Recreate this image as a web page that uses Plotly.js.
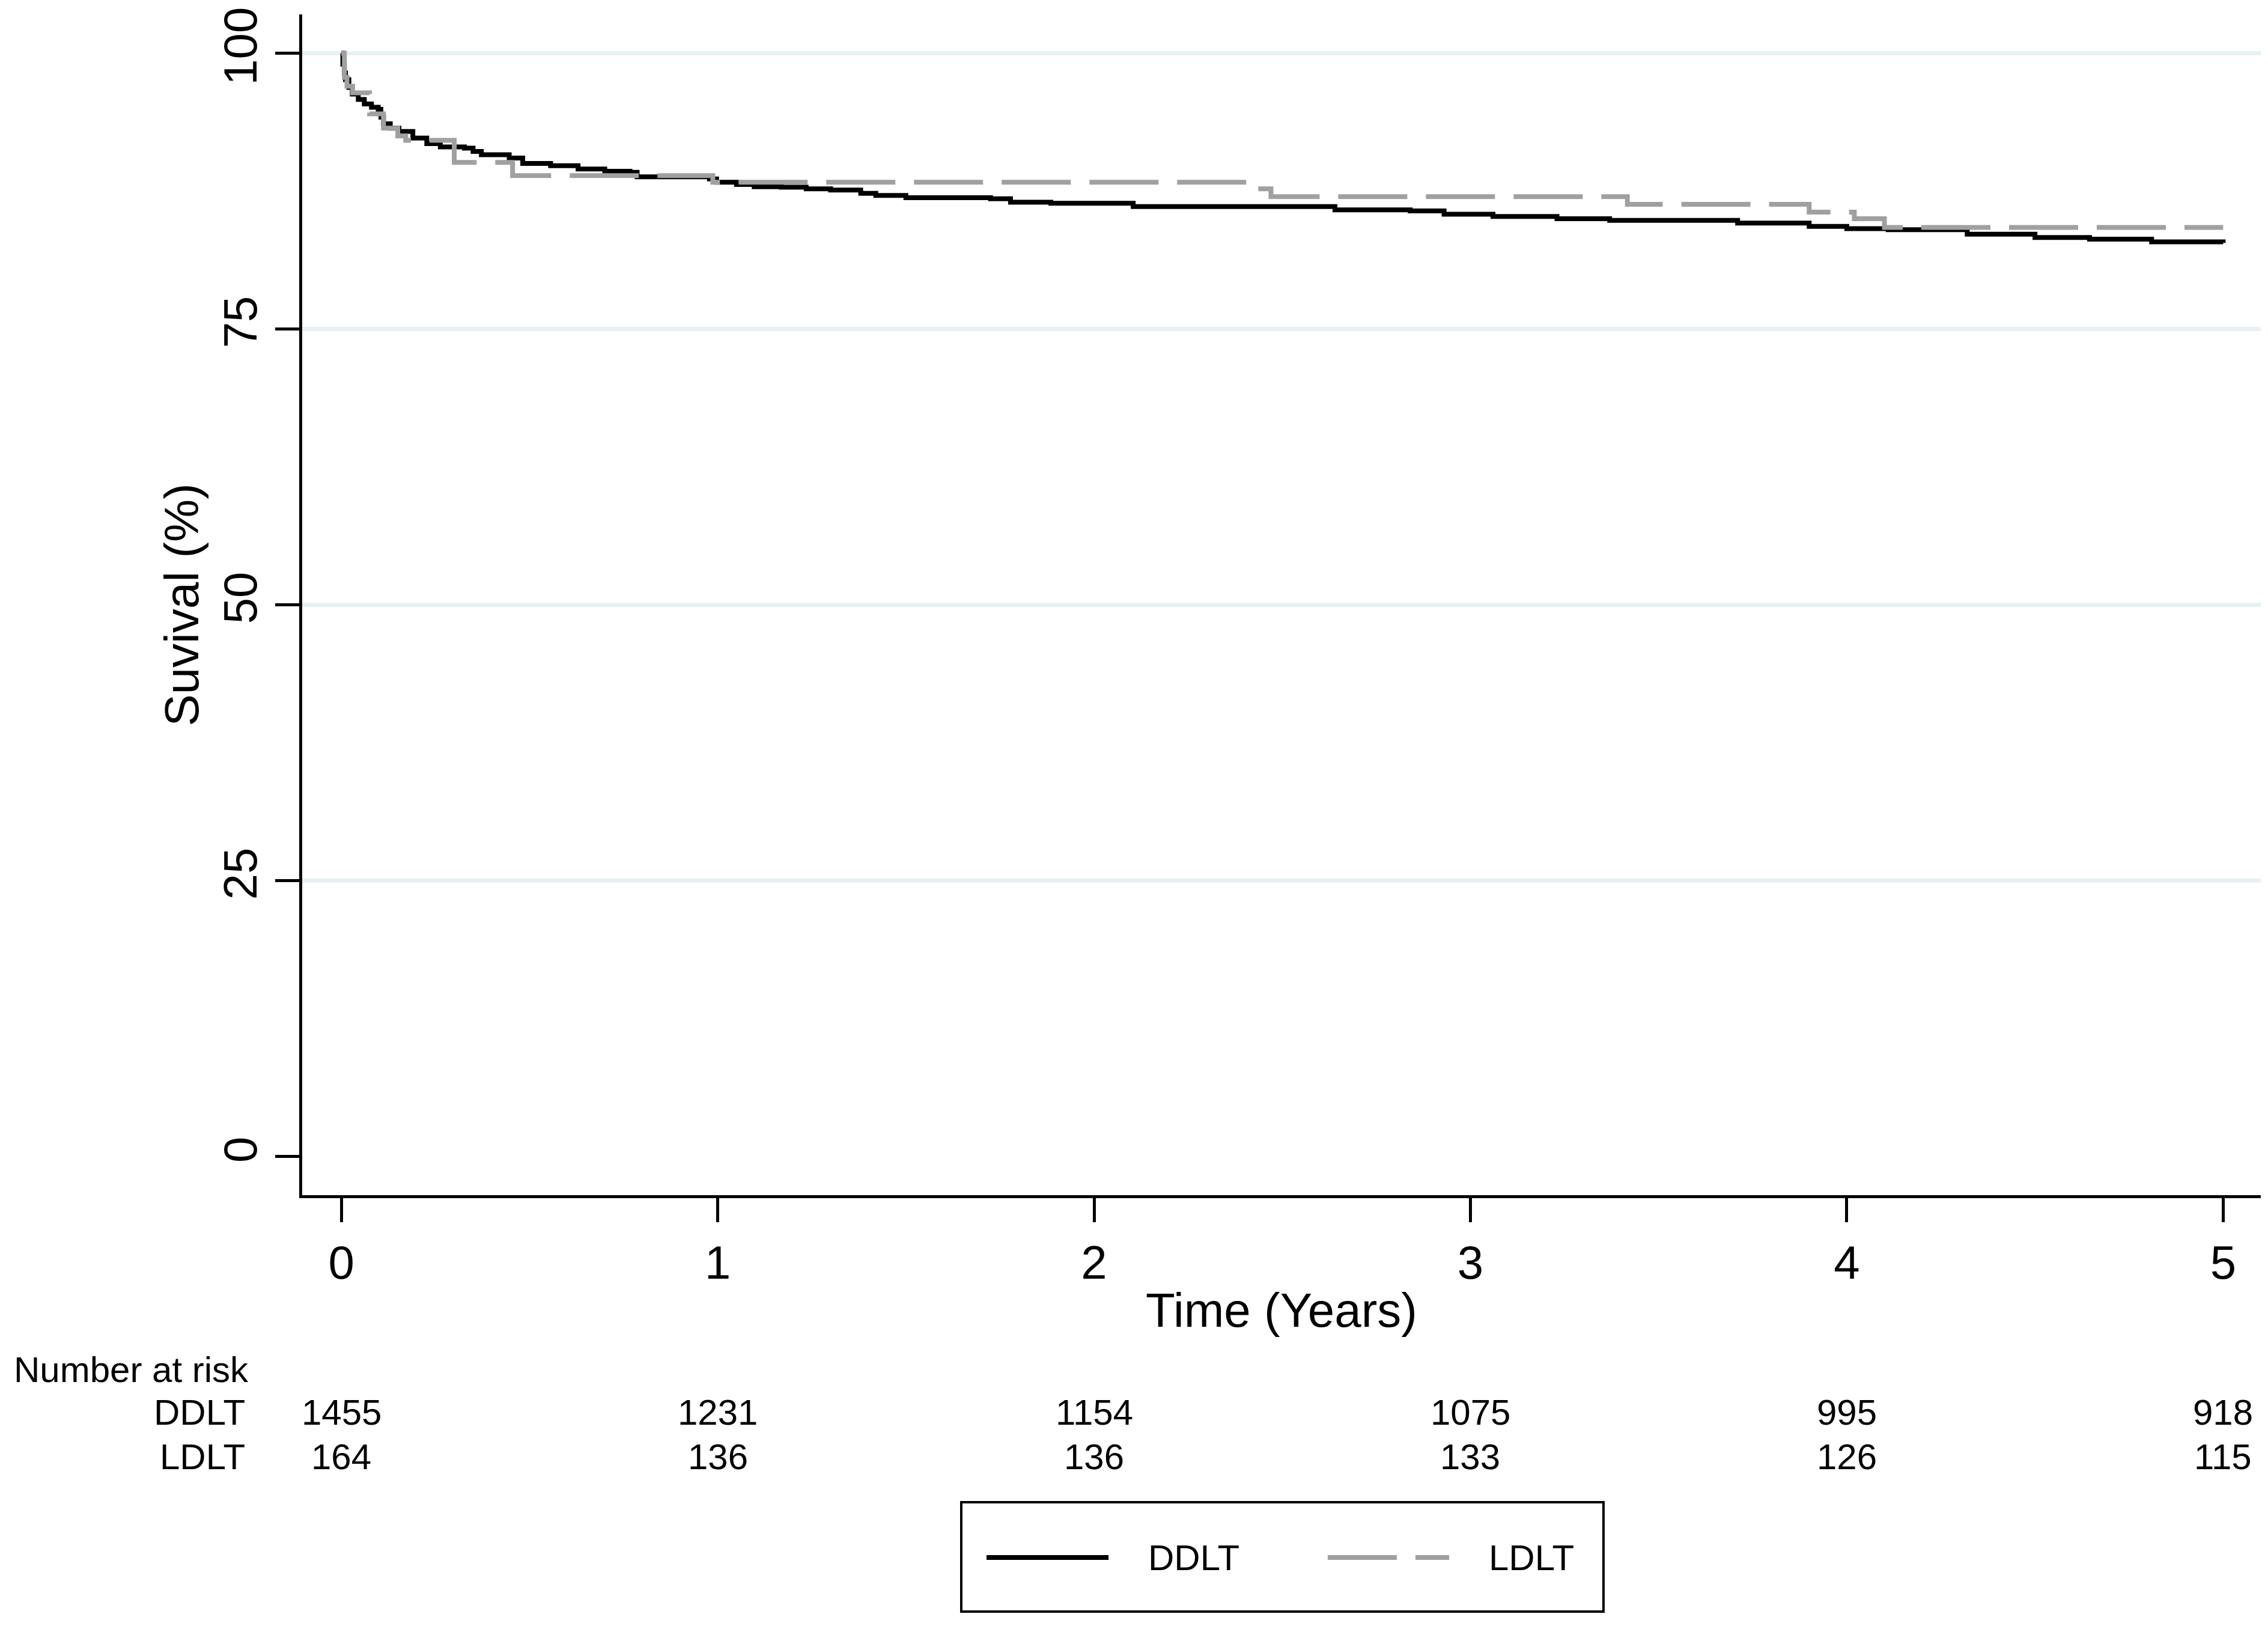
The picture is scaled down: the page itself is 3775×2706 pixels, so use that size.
<!DOCTYPE html>
<html>
<head>
<meta charset="utf-8">
<script src="https://cdn.plot.ly/plotly-3.0.1.min.js"></script>
<style>
html,body{margin:0;padding:0;background:#fff;}
#chart{width:3775px;height:2706px;}
</style>
</head>
<body>
<div id="chart"></div>
<script>
// ---- data ----
const ddltTime = [0, 0.004, 0.008, 0.011, 0.02, 0.029, 0.045, 0.061, 0.08, 0.098, 0.105, 0.112, 0.13, 0.153, 0.19, 0.227, 0.263, 0.327, 0.35, 0.372, 0.446, 0.482, 0.556, 0.629, 0.70, 0.767, 0.786, 0.978, 0.997, 1.05, 1.097, 1.169, 1.235, 1.30, 1.38, 1.42, 1.50, 1.725, 1.778, 1.885, 2.104, 2.64, 2.84, 2.93, 3.06, 3.23, 3.37, 3.71, 3.90, 4.00, 4.11, 4.32, 4.50, 4.645, 4.81, 5.0];
const ddltSurv = [100, 99.0, 98.2, 97.6, 96.9, 96.3, 95.8, 95.4, 95.1, 94.9, 94.2, 93.6, 93.2, 92.9, 92.3, 91.8, 91.5, 91.4, 91.1, 90.8, 90.5, 90.0, 89.8, 89.5, 89.3, 89.2, 88.8, 88.6, 88.3, 88.1, 87.9, 87.85, 87.7, 87.6, 87.3, 87.1, 86.9, 86.8, 86.5, 86.4, 86.1, 85.8, 85.7, 85.4, 85.2, 85.0, 84.85, 84.6, 84.3, 84.1, 84.0, 83.6, 83.3, 83.15, 82.9, 82.8];

const ldltTime = [0, 0.008, 0.015, 0.03, 0.075, 0.112, 0.15, 0.171, 0.30, 0.455, 0.987, 2.42, 2.47, 3.417, 3.90, 4.02, 4.10, 5.0];
const ldltSurv = [100, 97.8, 97.0, 96.4, 94.5, 93.2, 92.5, 92.1, 90.1, 88.9, 88.3, 87.7, 87.0, 86.3, 85.6, 85.0, 84.2, 84.2];

const xTicks = [0, 1, 2, 3, 4, 5];
const yTicks = [0, 25, 50, 75, 100];
const riskTimes = [0, 1, 2, 3, 4, 5];
const riskDDLT = [1455, 1231, 1154, 1075, 995, 918];
const riskLDLT = [164, 136, 136, 133, 126, 115];
const groupNames = ['DDLT', 'LDLT'];

// ---- styling ----
const FONT = 'Liberation Sans, Arial, Helvetica, sans-serif';
const ddltColor = '#000000';
const ldltColor = '#a0a0a0';
const ldltDash = '115px,31px';

const traces = [
  {x: ddltTime, y: ddltSurv, name: groupNames[0], type: 'scatter', mode: 'lines',
   line: {shape: 'hv', color: ddltColor, width: 8}},
  {x: ldltTime, y: ldltSurv, name: groupNames[1], type: 'scatter', mode: 'lines',
   line: {shape: 'hv', color: ldltColor, width: 8, dash: ldltDash}}
];

// risk table annotations
const annotations = [];
const rowY = [-0.1842, -0.2214];
annotations.push({xref: 'paper', yref: 'paper', x: -0.1479, y: -0.1476, xanchor: 'left', yanchor: 'middle',
  text: 'Number at risk', showarrow: false, font: {family: FONT, size: 60, color: '#000'}});
[riskDDLT, riskLDLT].forEach((row, r) => {
  annotations.push({xref: 'paper', yref: 'paper', x: -0.0285, y: rowY[r], xanchor: 'right', yanchor: 'middle',
    text: groupNames[r], showarrow: false, font: {family: FONT, size: 60, color: '#000'}});
  row.forEach((v, i) => {
    annotations.push({xref: 'x', yref: 'paper', x: riskTimes[i], y: rowY[r], xanchor: 'center', yanchor: 'middle',
      text: String(v), showarrow: false, font: {family: FONT, size: 60, color: '#000'}});
  });
});

// custom legend (box, samples, labels)
const legY = -0.3069;
const shapes = [
  {type: 'rect', xref: 'paper', yref: 'paper', x0: 0.3365, x1: 0.6644, y0: -0.2601, y1: -0.3527,
   line: {color: '#000', width: 4}, fillcolor: 'rgba(0,0,0,0)'},
  {type: 'line', xref: 'paper', yref: 'paper', x0: 0.3494, x1: 0.4117, y0: legY, y1: legY,
   line: {color: ddltColor, width: 8}},
  {type: 'line', xref: 'paper', yref: 'paper', x0: 0.5236, x1: 0.5856, y0: legY, y1: legY,
   line: {color: ldltColor, width: 8, dash: ldltDash}}
];
annotations.push({xref: 'paper', yref: 'paper', x: 0.4313, y: legY, xanchor: 'left', yanchor: 'middle',
  text: groupNames[0], showarrow: false, font: {family: FONT, size: 60, color: '#000'}});
annotations.push({xref: 'paper', yref: 'paper', x: 0.6052, y: legY, xanchor: 'left', yanchor: 'middle',
  text: groupNames[1], showarrow: false, font: {family: FONT, size: 60, color: '#000'}});

const layout = {
  width: 3775, height: 2706,
  paper_bgcolor: '#ffffff', plot_bgcolor: '#ffffff',
  margin: {l: 503, r: 12, t: 24, b: 717, pad: 0},
  showlegend: false,
  font: {family: FONT, color: '#000'},
  xaxis: {
    range: [-0.104, 5.1], tickvals: xTicks, ticktext: xTicks.map(String),
    showgrid: false, zeroline: false,
    showline: true, linecolor: '#000', linewidth: 5,
    ticks: 'outside', ticklen: 40, tickwidth: 5, tickcolor: '#000',
    tickfont: {family: FONT, size: 78, color: '#000'}, ticklabelstandoff: 0,
    title: {text: 'Time (Years)', font: {family: FONT, size: 80, color: '#000'}, standoff: 10}
  },
  yaxis: {
    range: [-3.49, 103.51], tickvals: yTicks, ticktext: yTicks.map(String),
    tickangle: -90,
    showgrid: true, gridcolor: '#e8f0f2', gridwidth: 7,
    zeroline: true, zerolinecolor: '#ffffff', zerolinewidth: 7,
    showline: true, linecolor: '#000', linewidth: 5,
    ticks: 'outside', ticklen: 40, tickwidth: 5, tickcolor: '#000',
    tickfont: {family: FONT, size: 78, color: '#000'}, ticklabelstandoff: 0,
    title: {text: 'Suvival (%)', font: {family: FONT, size: 80, color: '#000'}, standoff: 0}
  },
  annotations: annotations,
  shapes: shapes
};

Plotly.newPlot('chart', traces, layout, {staticPlot: true, displayModeBar: false});
</script>
</body>
</html>
